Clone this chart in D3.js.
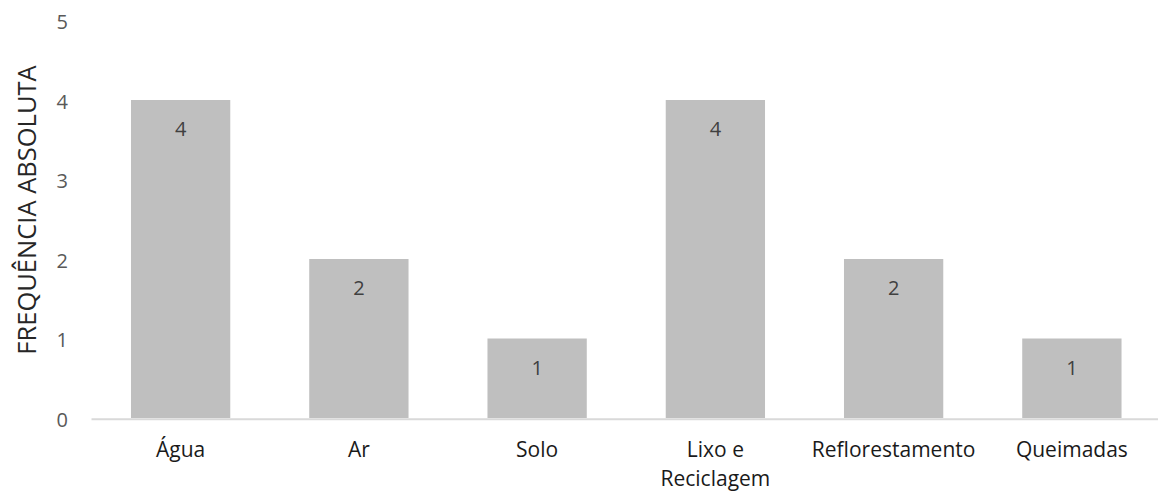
<!DOCTYPE html>
<html>
<head>
<meta charset="utf-8">
<script src="https://cdn.jsdelivr.net/npm/d3@7"></script>
<style>
  html, body { margin: 0; padding: 0; background: #fff; }
  svg { display: block; font-family: "Open Sans", sans-serif; }
</style>
</head>
<body>
<svg id="chart" width="1158" height="491"></svg>
<script>
// Category names (line breaks marked with \n)
const categories = ["Água", "Ar", "Solo", "Lixo e\nReciclagem", "Reflorestamento", "Queimadas"];
// Absolute frequency per category
const values = [4, 2, 1, 4, 2, 1];
// Y axis ticks
const yTicks = [0, 1, 2, 3, 4, 5];
const yTitle = "FREQUÊNCIA ABSOLUTA";

const svg = d3.select("#chart");

const x = d3.scaleBand()
  .domain(categories)
  .range([91.5, 1161])
  .paddingInner(0.443)
  .paddingOuter(0.2215);

const y = d3.scaleLinear()
  .domain([0, 5])
  .range([418, 20.5]);

// Bars
svg.append("g")
  .selectAll("rect")
  .data(values)
  .join("rect")
  .attr("x", (d, i) => x(categories[i]))
  .attr("y", d => y(d))
  .attr("width", x.bandwidth())
  .attr("height", d => y(0) - y(d))
  .attr("fill", "#bfbfbf");

// Baseline
svg.append("line")
  .attr("x1", 91.5).attr("x2", 1161)
  .attr("y1", y(0) + 1.3).attr("y2", y(0) + 1.3)
  .attr("stroke", "#d9d9d9")
  .attr("stroke-width", 2);

// Y tick labels
const yAxis = d3.axisLeft(y).tickValues(yTicks).tickFormat(d3.format("d")).tickSize(0).tickPadding(0);
const yg = svg.append("g").attr("transform", "translate(68,0)").call(yAxis);
yg.select(".domain").remove();
yg.selectAll("text")
  .attr("font-family", "Open Sans, sans-serif")
  .attr("font-size", 20)
  .attr("fill", "#595959")
  .attr("dy", "0.42em");

// Value labels inside the bars
svg.append("g")
  .selectAll("text")
  .data(values)
  .join("text")
  .attr("x", (d, i) => x(categories[i]) + x.bandwidth() / 2)
  .attr("y", d => y(d) + 36)
  .attr("text-anchor", "middle")
  .attr("font-size", 20)
  .attr("fill", "#404040")
  .text(d => d);

// Category labels
const cg = svg.append("g");
categories.forEach(c => {
  const t = cg.append("text")
    .attr("x", x(c) + x.bandwidth() / 2)
    .attr("y", 457)
    .attr("text-anchor", "middle")
    .attr("font-size", 21)
    .attr("fill", "#1a1a1a");
  c.split("\n").forEach((line, j) => {
    t.append("tspan")
      .attr("x", x(c) + x.bandwidth() / 2)
      .attr("dy", j === 0 ? 0 : 28.5)
      .text(line);
  });
});

// Y axis title
svg.append("text")
  .attr("transform", "translate(36,210) rotate(-90)")
  .attr("text-anchor", "middle")
  .attr("font-size", 25.5)
  .attr("fill", "#262626")
  .text(yTitle);
</script>
</body>
</html>
